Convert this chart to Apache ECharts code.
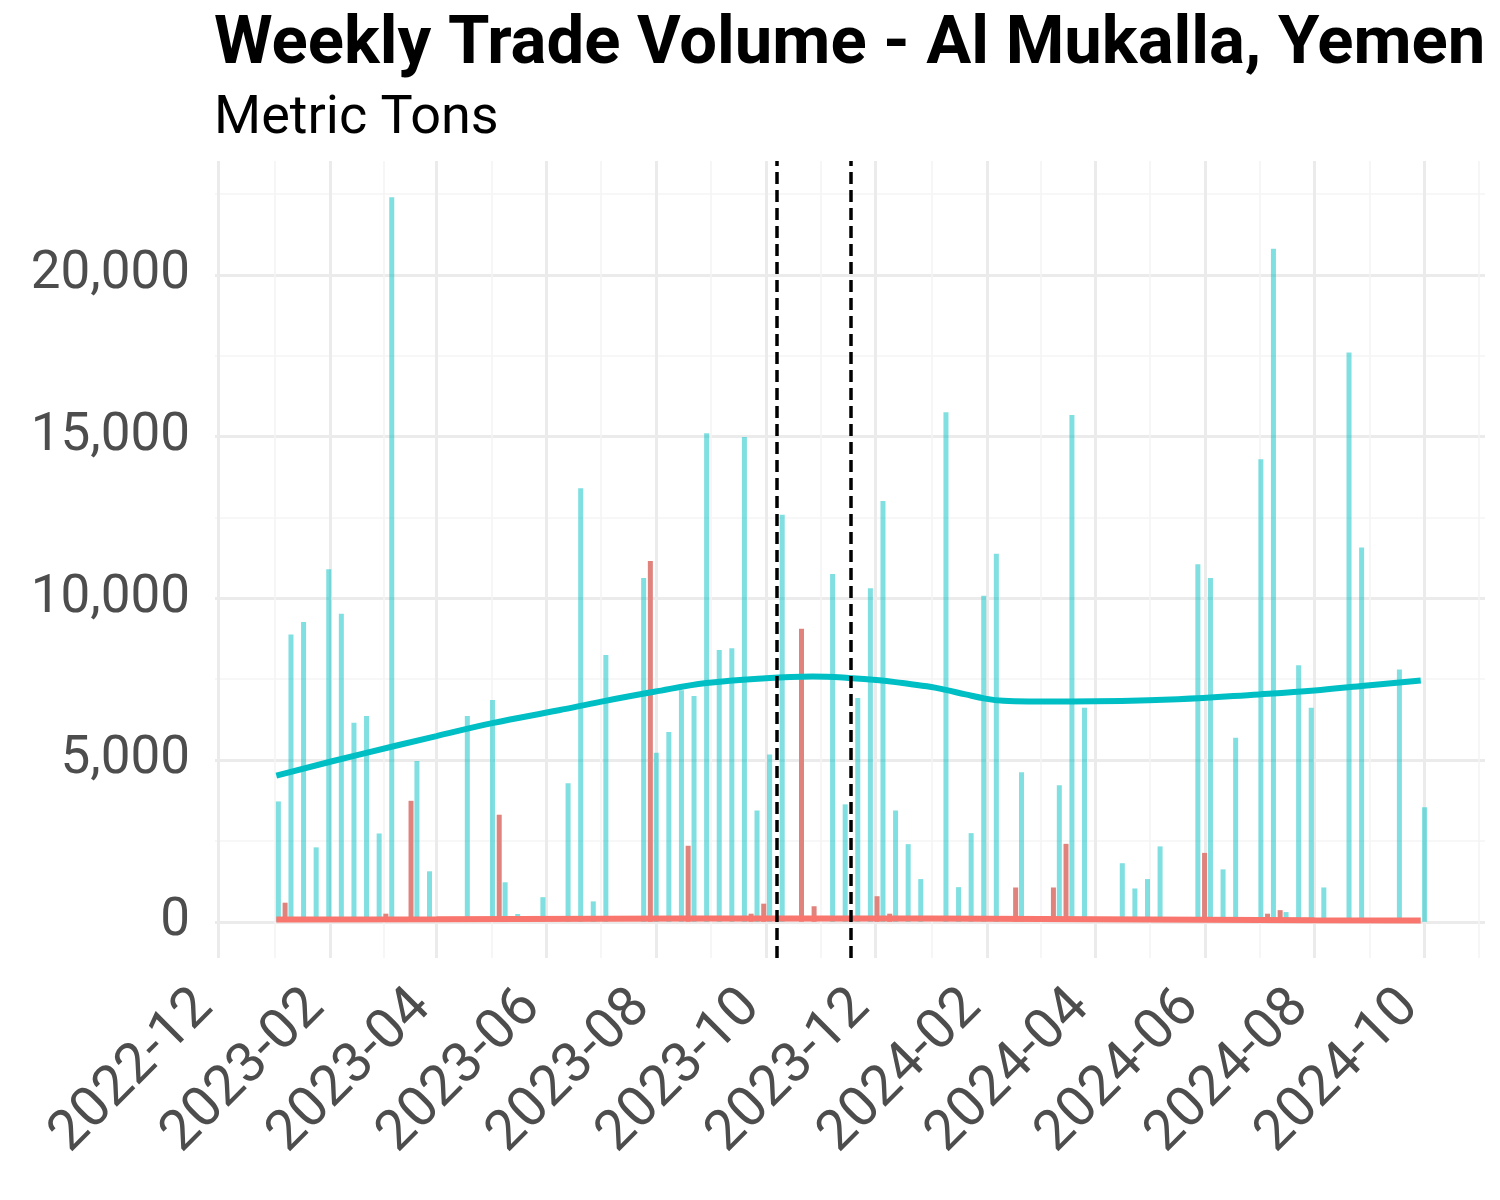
<!DOCTYPE html>
<html>
<head>
<meta charset="utf-8">
<script src="https://cdn.jsdelivr.net/npm/echarts@6/dist/echarts.min.js"></script>
<style>
  html, body { margin: 0; padding: 0; background: #ffffff; }
  #chart { width: 1500px; height: 1200px; }
</style>
</head>
<body>
<div id="chart"></div>
<script>
// ---------------- data ----------------
const firstWeek = '2023-01-05';
// weekly import volume (metric tons), one entry per week starting at firstWeek; null = no bar
const importTons = [
  3720, 8880, 9270, 2300, 10900, 9520, 6150, 6360, 2730, 22400,
  null, 4970, 1560, null, null, 6360, null, 6860, 1220, 240,
  null, 760, null, 4280, 13400, 630, 8250, null, null, 10630,
  5225, 5870, 7160, 6980, 15100, 8400, 8460, 14990, 3440, 5170,
  12580, null, null, null, 10750, 3630, 6920, 10310, 13010, 3440,
  2400, 1320, null, 15750, 1070, 2740, 10080, 11380, null, 4620,
  null, null, 4220, 15670, 6620, null, null, 1810, 1030, 1320,
  2330, null, null, 11050, 10630, 1620, 5690, null, 14300, 20810,
  300, 7930, 6620, 1060, null, 17600, 11570, null, null, 7800,
  null, 3540
];
// weekly export volume (metric tons)
const exportTons = [
  590, null, null, null, null, null, null, null, 250, null,
  3740, null, null, null, null, null, null, 3310, null, null,
  null, null, null, null, null, null, null, null, null, 11150,
  null, null, 2350, null, null, null, null, 250, 560, null,
  null, 9060, 480, null, null, null, null, 790, 250, null,
  null, null, null, null, null, null, null, null, 1060, null,
  null, 1060, 2410, null, null, null, null, null, null, null,
  null, null, null, 2130, null, null, null, null, 250, 360,
  null, null, null, null, null, null, null, null, null, null,
  null, null
];
// smoothed trends
const importTrendDates = ['2023-01-02','2023-02-17','2023-04-01','2023-05-02','2023-06-08','2023-07-01','2023-07-31','2023-08-29','2023-10-01','2023-10-27','2023-11-16','2023-12-03','2023-12-16','2024-01-01','2024-01-09','2024-01-20','2024-01-31','2024-02-10','2024-02-24','2024-03-19','2024-05-17','2024-07-01','2024-08-01','2024-08-27','2024-09-29'];
const importTrendValues = [4520, 5170, 5740, 6140, 6540, 6800, 7110, 7380, 7530, 7580, 7540, 7470, 7380, 7260, 7170, 7030, 6900, 6830, 6810, 6810, 6880, 7030, 7150, 7290, 7460];
const exportTrendDates = ['2023-01-02','2023-04-01','2023-07-01','2023-10-01','2023-12-01','2024-02-01','2024-04-01','2024-06-01','2024-08-01','2024-09-29'];
const exportTrendValues = [70, 80, 92, 102, 105, 95, 80, 65, 50, 38];
// event markers
const eventDates = ['2023-10-07', '2023-11-17'];
// axis ticks
const xTickLabels = ['2022-12','2023-02','2023-04','2023-06','2023-08','2023-10','2023-12','2024-02','2024-04','2024-06','2024-08','2024-10'];
const yTickValues = [0, 5000, 10000, 15000, 20000];
const yMinorValues = [2500, 7500, 12500, 17500, 22500];
const titleText = 'Weekly Trade Volume - Al Mukalla, Yemen';
const subtitleText = 'Metric Tons';

// ---------------- helpers ----------------
const DAY = 86400000;
function utc(s) { const p = s.split('-').map(Number); return Date.UTC(p[0], p[1] - 1, p[2] || 1); }
const week0 = utc(firstWeek);
const importData = importTons.map((v, i) => [week0 + i * 7 * DAY, v]);
const exportData = exportTons.map((v, i) => [week0 + i * 7 * DAY, v]);
const importTrend = importTrendDates.map((d, i) => [utc(d), importTrendValues[i]]);
const exportTrend = exportTrendDates.map((d, i) => [utc(d), exportTrendValues[i]]);
const xMajor = xTickLabels.map(utc);
const xMinor = [];
for (let i = 0; i < xMajor.length; i++) {
  const next = i + 1 < xMajor.length ? xMajor[i + 1] : Date.UTC(2024, 11, 1);
  xMinor.push((xMajor[i] + next) / 2);
}
const xMin = Date.UTC(2022, 10, 28, 22);
const xMax = Date.UTC(2024, 10, 3, 17);
const yMin = -1120, yMax = 23520;

const FONT = 'Roboto, "Noto Sans", sans-serif';
const chart = echarts.init(document.getElementById('chart'), null, { renderer: 'canvas' });

const option = {
  animation: false,
  backgroundColor: '#ffffff',
  grid: { left: 215, right: 15, top: 161, height: 797, containLabel: false },
  xAxis: [
    {
      type: 'value', min: xMin, max: xMax, scale: true,
      axisLine: { show: false },
      axisTick: { show: false, customValues: xMajor },
      axisLabel: {
        customValues: xMajor,
        rotate: 45, fontSize: 56, color: '#4D4D4D', fontFamily: FONT, margin: 27,
        padding: [0, 20, 0, 0],
        formatter: function (v) {
          for (let i = 0; i < xMajor.length; i++) { if (Math.abs(xMajor[i] - v) < DAY) return xTickLabels[i]; }
          return '';
        }
      },
      splitLine: { show: true, lineStyle: { color: '#EBEBEB', width: 3 } }
    },
    {
      type: 'value', min: xMin, max: xMax, scale: true, gridIndex: 0,
      axisLine: { show: false },
      axisTick: { show: false, customValues: xMinor },
      axisLabel: { show: false, customValues: xMinor },
      splitLine: { show: true, lineStyle: { color: '#F4F4F4', width: 1.6 } }
    }
  ],
  yAxis: [
    {
      type: 'value', min: yMin, max: yMax,
      axisLine: { show: false },
      axisTick: { show: false, customValues: yTickValues },
      axisLabel: {
        customValues: yTickValues,
        fontSize: 53, color: '#4D4D4D', fontFamily: FONT, margin: 25,
        formatter: function (v) { return Math.round(v).toLocaleString('en-US'); }
      },
      splitLine: { show: true, lineStyle: { color: '#EBEBEB', width: 3 } }
    },
    {
      type: 'value', min: yMin, max: yMax, gridIndex: 0, position: 'left',
      axisLine: { show: false },
      axisTick: { show: false, customValues: yMinorValues },
      axisLabel: { show: false, customValues: yMinorValues },
      splitLine: { show: true, lineStyle: { color: '#F4F4F4', width: 1.6 } }
    }
  ],
  series: [
    {
      name: 'Import', type: 'bar', data: importData, xAxisIndex: 0, yAxisIndex: 0,
      barWidth: 5, barGap: '34%',
      itemStyle: { color: 'rgba(0,191,196,0.5)' },
      z: 2
    },
    {
      name: 'Export', type: 'bar', data: exportData, xAxisIndex: 0, yAxisIndex: 0,
      barWidth: 5, barGap: '34%',
      itemStyle: { color: '#E0837D' },
      z: 2
    },
    {
      name: 'Import trend', type: 'line', data: importTrend, smooth: 0.4,
      showSymbol: false, lineStyle: { color: '#00BFC4', width: 6 }, z: 4,
      markLine: {
        silent: true, symbol: ['none', 'none'], label: { show: false },
        lineStyle: { color: '#000000', width: 3.5, type: [12, 6] },
        data: eventDates.map(d => ({ xAxis: utc(d) })),
        z: 5
      }
    },
    {
      name: 'Export trend', type: 'line', data: exportTrend, smooth: 0.5,
      showSymbol: false, lineStyle: { color: '#F8766D', width: 6 }, z: 4
    }
  ],
  graphic: [
    { type: 'text', left: 214, top: 13, style: { text: titleText, font: 'bold 67px ' + FONT, fill: '#000000' } },
    { type: 'text', left: 214, top: 92, style: { text: subtitleText, font: '54px ' + FONT, fill: '#000000' } }
  ]
};
chart.setOption(option);
</script>
</body>
</html>
